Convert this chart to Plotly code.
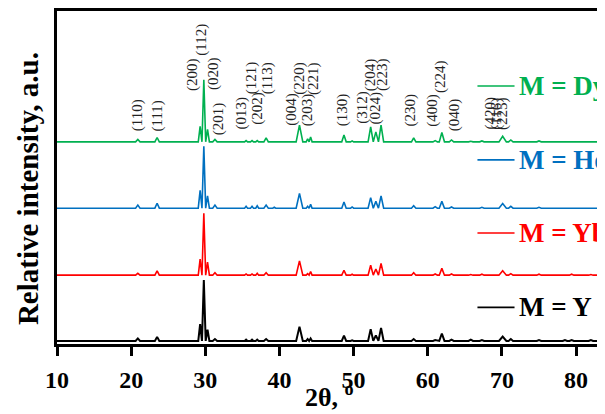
import plotly.graph_objects as go

# ---------------- data ----------------
peak_pos = [20.9, 23.5, 29.3, 29.8, 30.3, 31.3, 35.5, 36.3, 37.0, 38.2, 39.3,
            42.7, 43.8, 44.2, 48.7, 49.8, 52.3, 53.0, 53.7, 58.1, 61.0, 61.9,
            63.2, 65.8, 67.3, 70.1, 71.2, 75.0, 78.5, 79.4, 82.0]
peak_hw = [0.3, 0.3, 0.25, 0.25, 0.25, 0.3, 0.2, 0.2, 0.2, 0.3, 0.2,
           0.45, 0.2, 0.2, 0.3, 0.2, 0.35, 0.35, 0.35, 0.3, 0.3, 0.35,
           0.3, 0.3, 0.3, 0.5, 0.3, 0.3, 0.3, 0.3, 0.3]

int_Y = [4, 6.5, 27, 98, 18, 3, 2, 2, 2, 3, 1,
         23, 3, 4, 8.5, 1, 19, 9, 21, 3, 1.5, 12,
         2, 2, 1.5, 7, 3, 1.5, 1.5, 1.5, 1.5]
int_Yb = [3, 7, 26, 100, 21, 4, 2, 2, 3, 4, 1,
          23, 2.5, 6, 8, 1.5, 16, 10, 19, 4, 2, 11,
          2, 1, 1.5, 7, 2.5, 1.5, 1, 1.5, 1]
int_Ho = [5, 8, 29, 100, 20, 5, 3, 3, 4, 5, 1.5,
          24, 3, 6.5, 10, 2, 17, 11, 20, 4, 2.5, 11,
          2, 1, 1.5, 7.5, 3, 1.5, 1, 1, 1]
int_Dy = [4, 7, 25, 100, 20, 4, 2, 2, 2, 6.5, 1,
          27, 5, 8, 11, 1.5, 24, 16, 27, 6.5, 2, 15,
          3, 1, 1.5, 9, 3, 1.5, 1, 1, 1]

series_names = ["M = Y", "M = Yb", "M = Ho", "M = Dy"]
series_offsets = [0, 106, 214, 321]
series_colors = ["#000000", "#FF0000", "#0070C0", "#00B050"]
series_widths = [2.0, 1.6, 1.6, 1.6]
legend_y = [54, 174, 292, 411]

hkl_labels = ["(110)", "(111)", "(200)", "(112)", "(020)", "(201)", "(013)",
              "(121)", "(202)", "(113)", "(004)", "(220)", "(203)", "(221)",
              "(130)", "(312)", "(204)", "(024)", "(223)", "(230)", "(400)",
              "(224)", "(040)", "(420)", "(116)", "(225)"]
hkl_x = [20.8, 23.6, 28.3, 29.5, 31.2, 31.7, 34.9,
         36.2, 37.0, 38.4, 41.7, 42.6, 43.8, 44.5,
         48.5, 51.2, 52.2, 52.9, 53.9, 57.7, 60.7,
         61.8, 63.6, 68.4, 69.3, 70.1]
hkl_y = [335, 335, 400, 456, 401, 329, 338,
         394, 345, 394, 343, 394, 343, 394,
         343, 347, 400, 345, 400, 343, 343,
         396, 335, 337, 337, 337]

x_min, x_max = 10, 83.9
x_ticks = [10, 20, 30, 40, 50, 60, 70, 80]


def pattern(intens, offset):
    xs, ys = [x_min], [offset]
    for p, hw, h in zip(peak_pos, peak_hw, intens):
        xs += [p - hw, p, p + hw]
        ys += [offset, offset + h, offset]
    xs.append(x_max)
    ys.append(offset)
    return xs, ys


fig = go.Figure()
all_int = [int_Y, int_Yb, int_Ho, int_Dy]
for name, ints, off, col, lw in zip(series_names, all_int, series_offsets,
                                    series_colors, series_widths):
    xs, ys = pattern(ints, off)
    fig.add_trace(go.Scatter(x=xs, y=ys, mode="lines", name=name,
                             line=dict(color=col, width=lw), showlegend=False))

SERIF = "Liberation Serif"

# legend drawn as line + label
for name, col, ly in zip(series_names, series_colors, legend_y):
    fig.add_shape(type="line", xref="x", yref="y", x0=66.7, x1=71.7, y0=ly, y1=ly,
                  line=dict(color=col, width=1.6))
    fig.add_annotation(x=72.0, y=ly, xref="x", yref="y", text="<b>" + name + "</b>",
                       showarrow=False, xanchor="left", yanchor="middle",
                       font=dict(family=SERIF, size=27, color=col))

# hkl labels
for t, hx, hy in zip(hkl_labels, hkl_x, hkl_y):
    fig.add_annotation(x=hx, y=hy, xref="x", yref="y", text=t, textangle=-90,
                       showarrow=False, xanchor="center", yanchor="bottom",
                       font=dict(family=SERIF, size=15, color="#222222"))

# axis titles
fig.add_annotation(x=-0.053, y=0.468, xref="paper", yref="paper",
                   text="<b>Relative intensity, a.u.</b>", textangle=-90,
                   showarrow=False, xanchor="center", yanchor="middle",
                   font=dict(family=SERIF, size=29, color="black"))
fig.add_annotation(x=0.498, y=-0.21, xref="paper", yref="paper",
                   text="<b>2θ, <sup>o</sup></b>",
                   showarrow=False, xanchor="center", yanchor="bottom",
                   font=dict(family=SERIF, size=26, color="black"))

# the page body adds an 8 px margin, so the figure is 8 px smaller each way
fig.update_layout(
    template="none",
    width=597, height=406,
    margin=dict(l=49, r=0, t=3, b=70, pad=0, autoexpand=False),
    paper_bgcolor="white", plot_bgcolor="white",
    xaxis=dict(range=[x_min, x_max], tickvals=x_ticks,
               ticktext=["<b>%d</b>" % v for v in x_ticks],
               ticks="outside", ticklen=9, tickwidth=2.5, tickcolor="black",
               ticklabelstandoff=3, automargin=False,
               showline=True, linewidth=3, linecolor="black", mirror=True,
               showgrid=False, zeroline=False,
               tickfont=dict(family=SERIF, size=24, color="black")),
    yaxis=dict(range=[-5, 532], showticklabels=False, ticks="",
               automargin=False,
               showline=True, linewidth=3, linecolor="black", mirror=False,
               showgrid=False, zeroline=False),
)

fig.write_html("out.html")
